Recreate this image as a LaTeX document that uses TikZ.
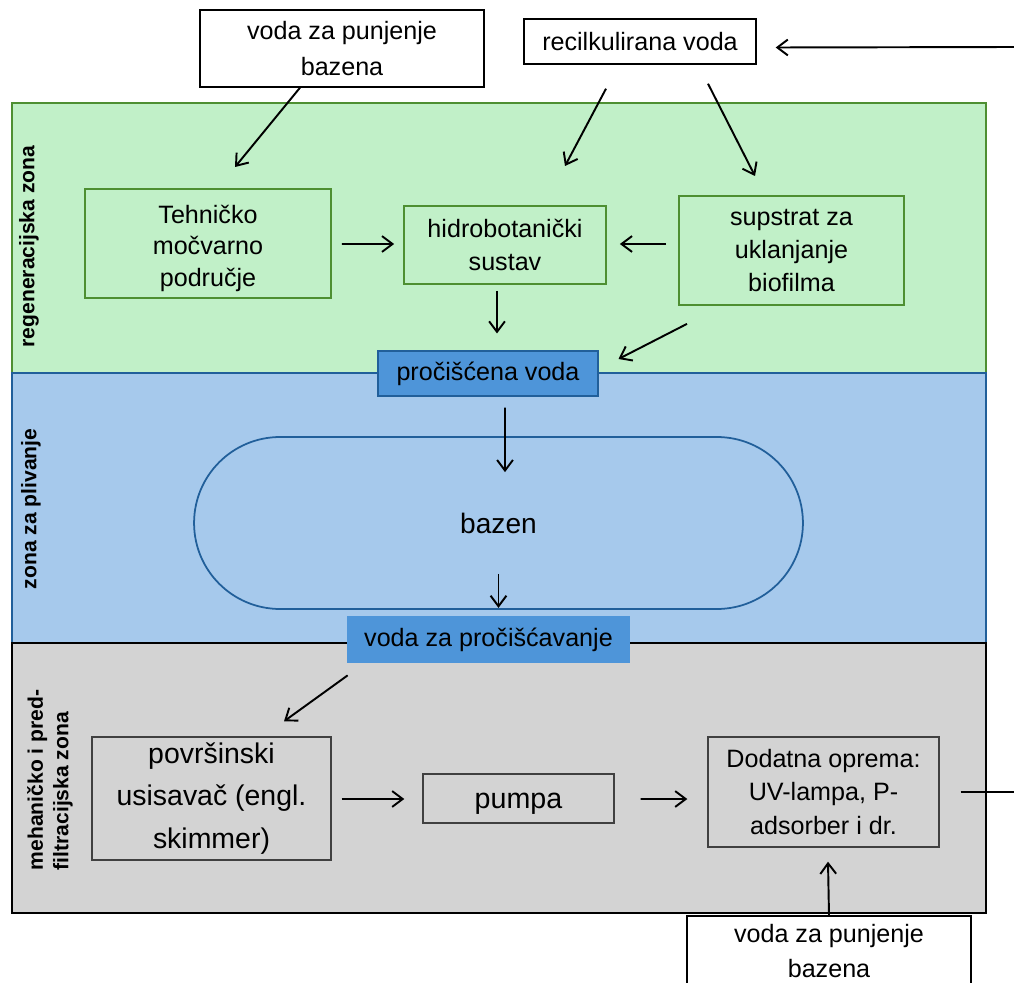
\documentclass[tikz,border=0pt]{standalone}
\usepackage{fontspec}
\setmainfont{Liberation Sans}
\usetikzlibrary{arrows.meta,calc}

\definecolor{regfill}{HTML}{C1F0C8}
\definecolor{regline}{HTML}{4E8F32}
\definecolor{swimfill}{HTML}{A6C9EC}
\definecolor{swimline}{HTML}{215F9A}
\definecolor{waterfill}{HTML}{4E95D9}
\definecolor{mechfill}{HTML}{D3D3D3}
\definecolor{mechline}{HTML}{404040}

\begin{document}
\begin{tikzpicture}[x=0.02cm, y={(0cm,-0.02cm)},
	>={Straight Barb[length=6pt,width=9pt]},
	flow/.style={->, line width=1.1pt},
	txt/.style={font=\fontsize{14.3}{19}\selectfont, align=center, inner sep=0pt},
	whitebox/.style={txt, draw=black, fill=white, line width=0.8pt},
	regbox/.style={txt, draw=regline, fill=regfill, line width=1pt},
	mechbox/.style={txt, draw=mechline, fill=mechfill, line width=0.8pt},
	waterbox/.style={txt, fill=waterfill},
	zonelabel/.style={font=\fontsize{12}{14.5}\selectfont\bfseries, rotate=90, align=left, inner sep=0pt}]

	\useasboundingbox (0,0) rectangle (1014,983);

	% === ZONES === (((
	\draw [regline, fill=regfill, line width=1pt] (12,103) rectangle (986,373);
	\draw [swimline, fill=swimfill, line width=1pt] (12,373) rectangle (986,643);
	\draw [black, fill=mechfill, line width=1.4pt] (12,643) rectangle (986,913);
	\node [zonelabel] (reglabel) at (29,246.5) {regeneracijska zona};
	\node [zonelabel] (swimlabel) at (31,509) {zona za plivanje};
	\node [zonelabel] (mechlabel) at (50,780) {mehaničko i pred-\\filtracijska zona};
	% )))

	% === INPUTS === (((
	\node [whitebox, minimum width=5.68cm, minimum height=1.54cm,
		font=\fontsize{14.3}{21}\selectfont] (topfill) at (342,48.5) {voda za punjenje\\bazena};
	\node [whitebox, minimum width=4.64cm, minimum height=0.9cm] (recirc) at (640,41.5) {recilkulirana voda};
	\node [whitebox, minimum width=5.68cm, minimum height=1.4cm,
		font=\fontsize{14.3}{20}\selectfont] (bottomfill) at (829,951) {voda za punjenje\\bazena};
	\coordinate (backin) at (1014,47);
	\coordinate (backout) at (1014,792);
	\coordinate (tehin) at (235,167);
	\coordinate (hidroin) at (565,166);
	\coordinate (supin) at (755,176);
	% )))

	% === REGENERATION === (((
	\node [regbox, minimum width=4.92cm, minimum height=2.18cm,
		font=\fontsize{14.3}{18}\selectfont] (tehnicko) at (208,243.5) {\rule{0pt}{16pt}Tehničko\\močvarno\\područje};
	\node [regbox, minimum width=4.04cm, minimum height=1.56cm] (hidro) at (505,245) {hidrobotanički\\sustav};
	\node [regbox, minimum width=4.5cm, minimum height=2.18cm] (supstrat) at (791.5,250.5) {supstrat za\\uklanjanje\\biofilma};
	\node [waterbox, draw=swimline, line width=0.6pt, minimum width=4.4cm, minimum height=0.9cm] (procisc) at (488,373.5) {pročišćena voda};
	% )))

	% === SWIMMING === (((
	\node [txt, draw=swimline, fill=swimfill, line width=1pt, rounded corners=1.72cm,
		minimum width=12.18cm, minimum height=3.44cm, font=\fontsize{16}{19}\selectfont] (bazen) at (498.5,523) {bazen};
	\node [waterbox, minimum width=5.66cm, minimum height=0.94cm] (prociscavanje) at (488.5,639.5) {voda za pročišćavanje};
	% )))

	% === MECHANICAL === (((
	\node [mechbox, minimum width=4.78cm, minimum height=2.46cm,
		font=\fontsize{16.2}{24}\selectfont] (skimmer) at (211.5,798.5) {površinski\\usisavač (engl.\\skimmer)};
	\node [mechbox, minimum width=3.82cm, minimum height=0.98cm,
		font=\fontsize{16.3}{19}\selectfont] (pumpa) at (518.5,798.5) {\rule{0pt}{15pt}pumpa};
	\node [mechbox, minimum width=4.62cm, minimum height=2.2cm] (dodatna) at (823.5,792) {Dodatna oprema:\\UV-lampa, P-\\adsorber i dr.};
	% )))

	% === FLOWS === (((
	\draw [flow] (backin) -- ($(recirc.east)+(19,6)$);
	\draw [flow] ($(topfill.south)+(-42,0)$) -- (tehin);
	\draw [flow] ($(recirc.south)+(-34,24)$) -- (hidroin);
	\draw [flow] ($(recirc.south)+(68,19)$) -- (supin);
	\draw [flow] ($(tehnicko.east)+(10,0.5)$) -- ($(hidro.west)+(-9,-1)$);
	\draw [flow] ($(supstrat.west)+(-12,-6.5)$) -- ($(hidro.east)+(13,-1)$);
	\draw [flow] ($(hidro.south)+(-8,6)$) -- ($(procisc.north)+(9,-17)$);
	\draw [flow] ($(supstrat.south)+(-104.5,18)$) -- ($(procisc.east)+(20,-14.5)$);
	\draw [flow] ($(procisc.south)+(17,11)$) -- ($(bazen.north)+(6.5,36)$);
	\draw [flow] ($(bazen.south)+(0,-36)$) -- ($(bazen.south)+(0,-2)$);
	\draw [flow] ($(prociscavanje.south west)+(1,12)$) -- ($(skimmer.north)+(72.5,-15)$);
	\draw [flow] ($(skimmer.east)+(10,0.5)$) -- ($(pumpa.west)+(-18,0.5)$);
	\draw [flow] ($(pumpa.east)+(26,0.5)$) -- ($(dodatna.west)+(-20,7)$);
	\draw [flow] (bottomfill.north) -- ($(dodatna.south)+(4.5,14)$);
	\draw [line width=1.1pt] ($(dodatna.east)+(21,0)$) -- (backout);
	% )))

\end{tikzpicture}
\end{document}
